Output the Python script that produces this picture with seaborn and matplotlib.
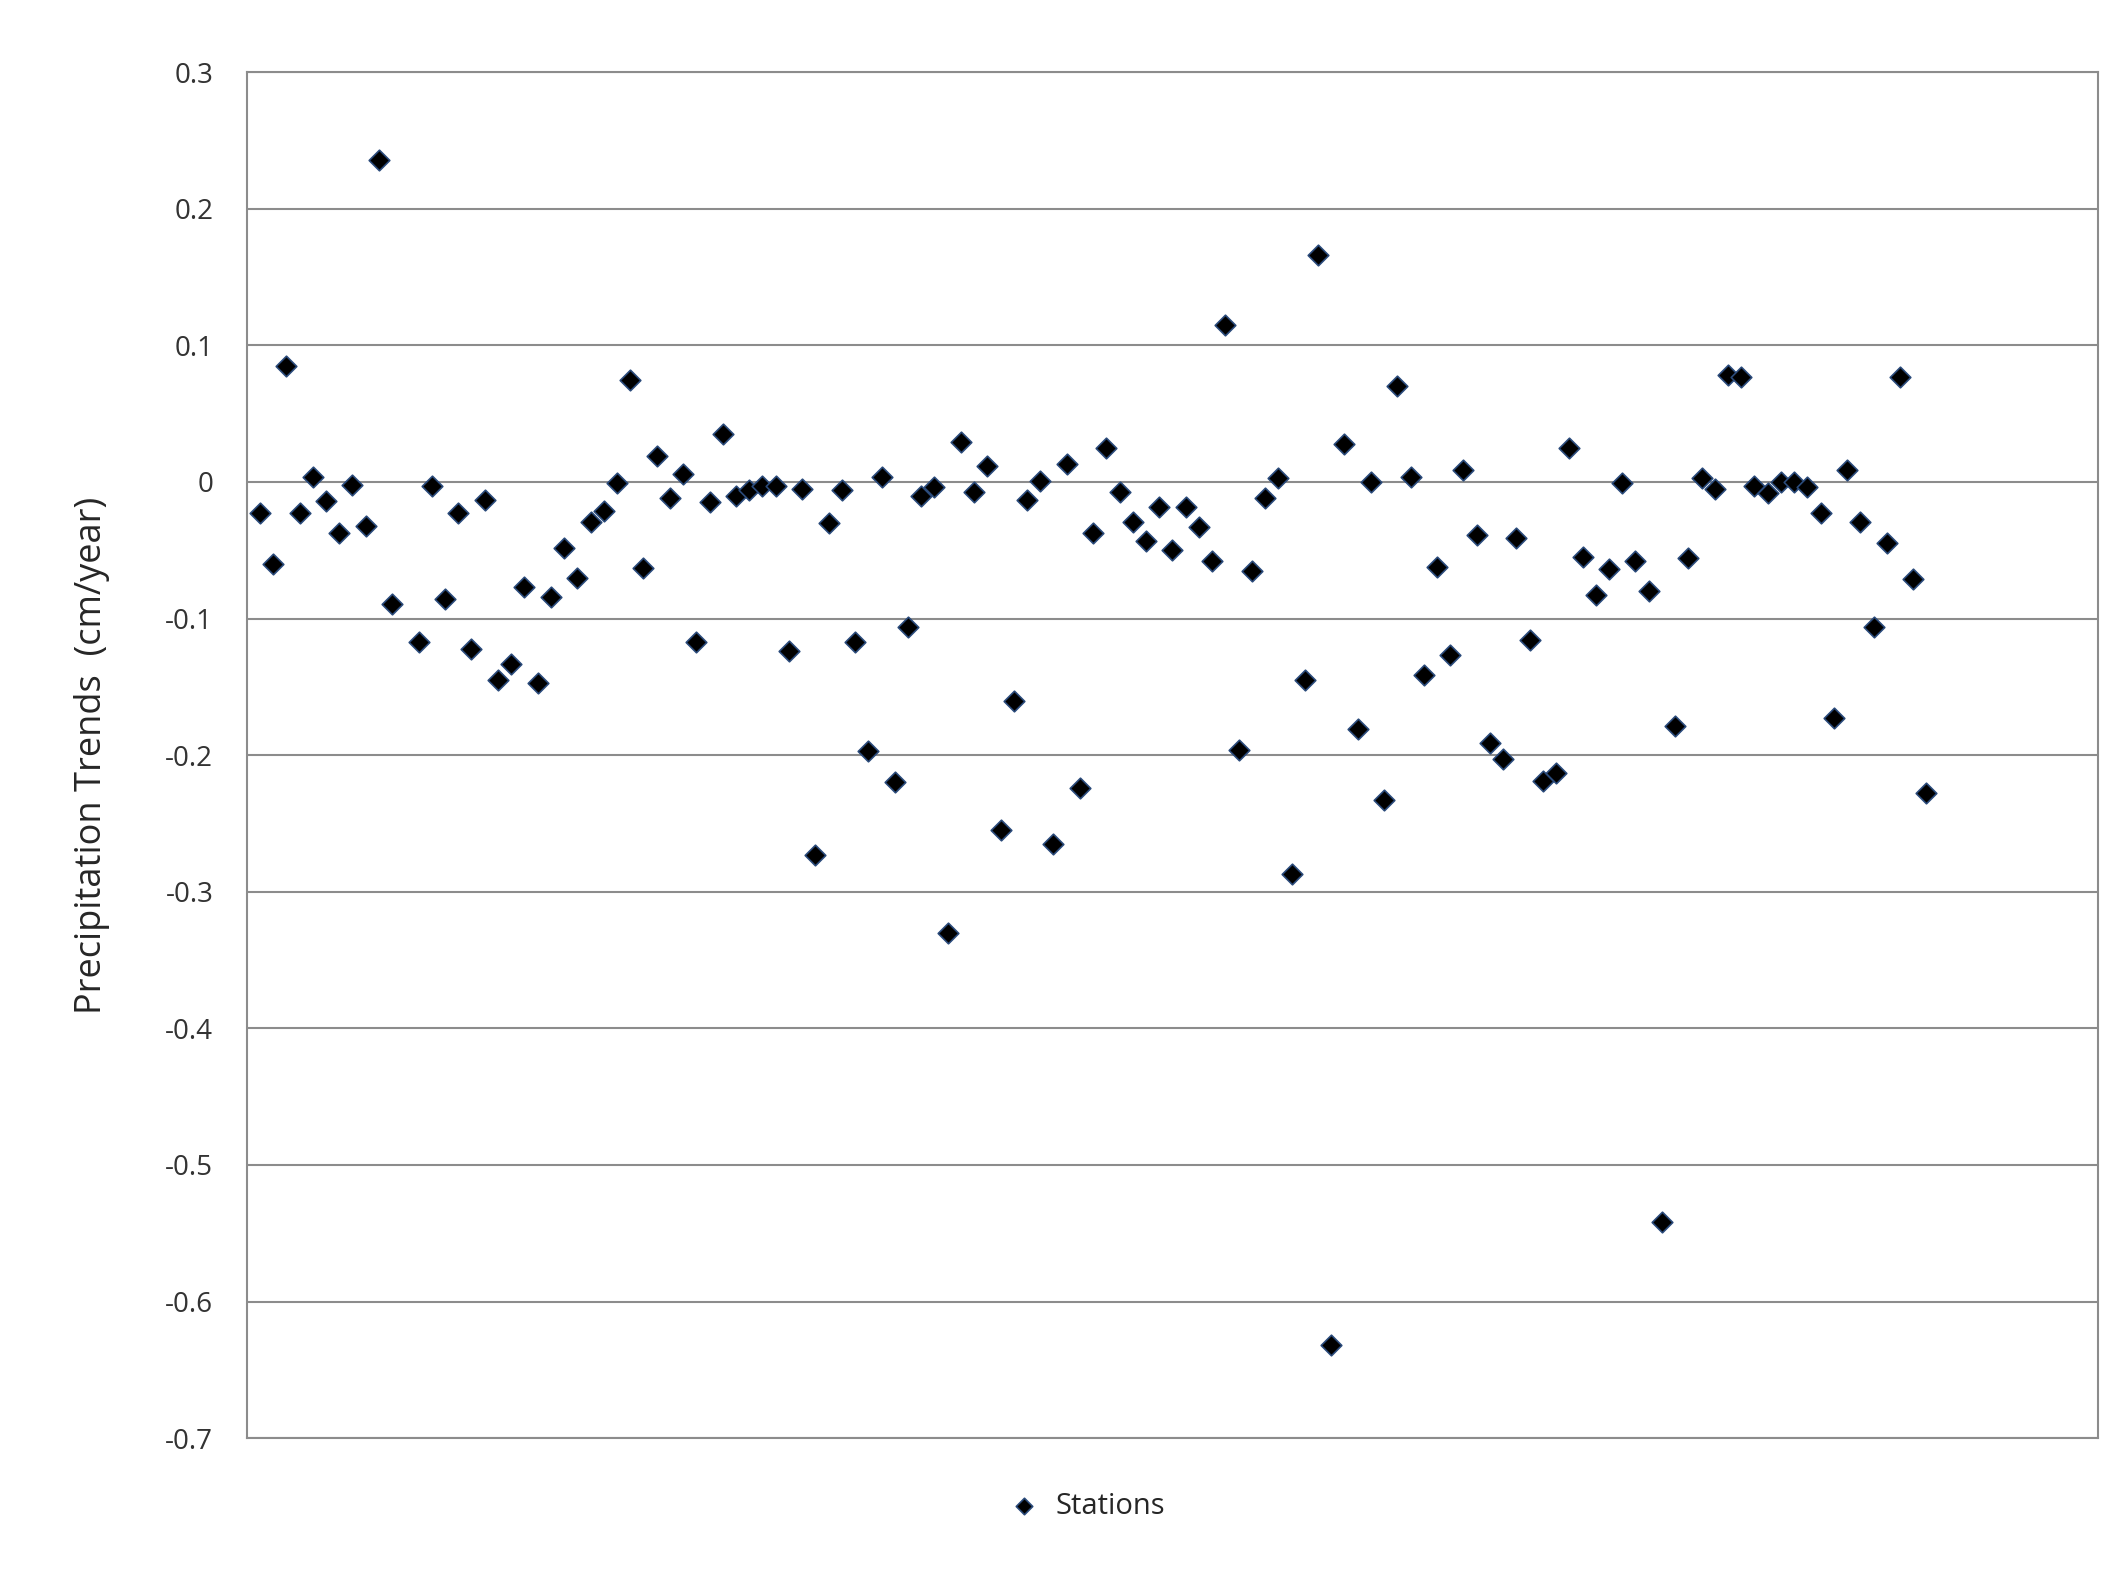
import numpy as np
import pandas as pd
import matplotlib
matplotlib.use('Agg')
import matplotlib.pyplot as plt
import seaborn as sns

sns.set_theme(style='white')
plt.rcParams['font.family'] = ['Open Sans', 'DejaVu Sans']

# precipitation trend per station (cm/year), station 12 has no value
trends = [-0.023, -0.060, 0.085, -0.023, 0.004, -0.014, -0.037, -0.002, -0.032, 0.236,
          -0.089, np.nan, -0.117, -0.003, -0.086, -0.023, -0.122, -0.013, -0.145, -0.133,
          -0.077, -0.147, -0.084, -0.048, -0.070, -0.029, -0.021, -0.001, 0.075, -0.063,
          0.019, -0.012, 0.006, -0.117, -0.015, 0.035, -0.010, -0.006, -0.003, -0.003,
          -0.124, -0.005, -0.273, -0.030, -0.006, -0.117, -0.197, 0.004, -0.220, -0.106,
          -0.010, -0.004, -0.330, 0.029, -0.007, 0.012, -0.255, -0.160, -0.013, 0.001,
          -0.265, 0.013, -0.224, -0.037, 0.025, -0.007, -0.029, -0.043, -0.018, -0.050,
          -0.018, -0.033, -0.058, 0.115, -0.196, -0.065, -0.012, 0.003, -0.287, -0.145,
          0.166, -0.632, 0.028, -0.181, 0.000, -0.233, 0.070, 0.004, -0.141, -0.062,
          -0.127, 0.009, -0.039, -0.191, -0.203, -0.041, -0.116, -0.219, -0.213, 0.025,
          -0.055, -0.083, -0.064, -0.001, -0.058, -0.080, -0.542, -0.179, -0.056, 0.003,
          -0.005, 0.078, 0.077, -0.003, -0.008, 0.000, 0.000, -0.004, -0.023, -0.173,
          0.009, -0.029, -0.106, -0.045, 0.077, -0.071, -0.228]
stations = np.arange(1, len(trends) + 1)
df = pd.DataFrame({'Station': stations, 'Trend': trends}).dropna()

fig = plt.figure(figsize=(21.26, 15.70), dpi=100)
ax = fig.add_axes([0.116, 0.084, 0.871, 0.870])

sns.scatterplot(data=df, x='Station', y='Trend', ax=ax, marker='D', s=110,
                color='black', edgecolor='#2a4a7a', linewidth=1.2, label='Stations')

ax.set_xlim(0, 140)
ax.set_ylim(-0.7, 0.3)
ax.set_yticks(np.arange(-0.7, 0.31, 0.1))
ax.set_yticklabels(['-0.7', '-0.6', '-0.5', '-0.4', '-0.3', '-0.2', '-0.1', '0', '0.1', '0.2', '0.3'])
ax.set_xticks([])
ax.tick_params(axis='y', labelsize=20, colors='#333333', pad=18)
ax.yaxis.grid(True, color='#8c8c8c', linewidth=1.5)
for s in ax.spines.values():
    s.set_color('#8c8c8c')
    s.set_linewidth(1.5)
ax.set_xlabel('')
ax.set_ylabel('Precipitation Trends  (cm/year)', fontsize=26, labelpad=40)

ax.legend(loc='upper center', bbox_to_anchor=(0.45, -0.02), frameon=False,
          fontsize=21, handletextpad=0.1, markerscale=0.8)

fig.savefig('out.png', dpi=100)
